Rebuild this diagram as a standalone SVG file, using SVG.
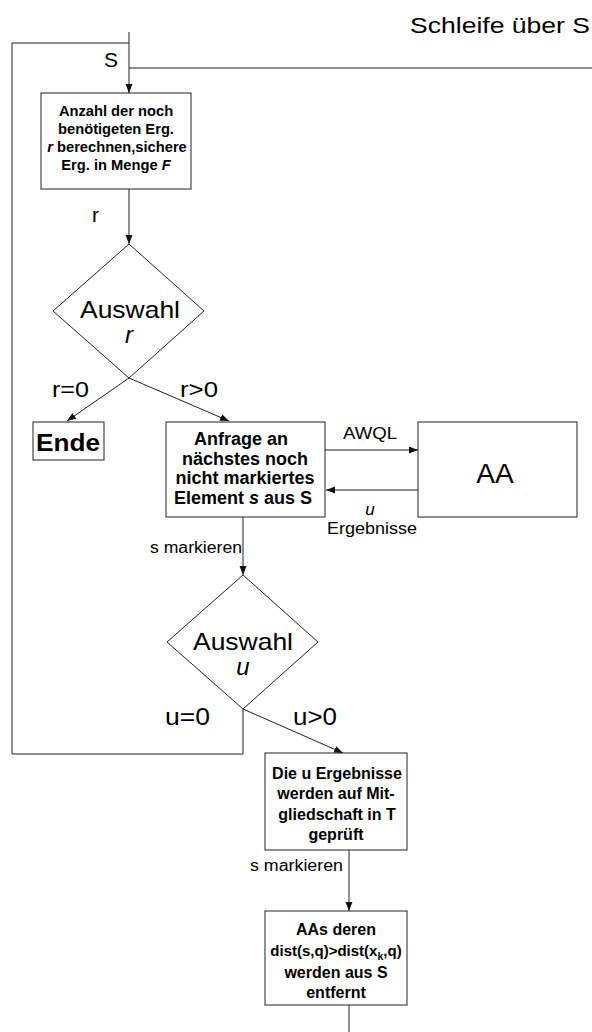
<svg xmlns="http://www.w3.org/2000/svg" width="592" height="1032" viewBox="0 0 592 1032">
  <style>
    .box { fill: #fff; stroke: #222; stroke-width: 1; }
    .wire { fill: none; stroke: #222; stroke-width: 1; }
    .t { font-family: "Liberation Sans", Arial, sans-serif; fill: #000; }
    .b { font-weight: bold; }
    .c { text-anchor: middle; }
    .i { font-style: italic; }
  </style>
  <defs>
    <marker id="arrow" markerWidth="9" markerHeight="8" refX="9" refY="3.5" orient="auto" markerUnits="userSpaceOnUse">
      <path d="M0,0 L9,3.5 L0,7 z" fill="#111"/>
    </marker>
  </defs>

  <rect width="592" height="1032" fill="#fff"/>

  <!-- title -->
  <text class="t" x="410" y="33" font-size="22" textLength="180" lengthAdjust="spacingAndGlyphs">Schleife über S</text>

  <!-- connectors -->
  <g id="connectors">
    <path class="wire" d="M129,32 V93" marker-end="url(#arrow)"/>
    <path class="wire" d="M129,68 H592"/>
    <path class="wire" d="M129,189 V244" marker-end="url(#arrow)"/>
    <path class="wire" d="M129,378 L67,421" marker-end="url(#arrow)"/>
    <path class="wire" d="M129,378 L229,421" marker-end="url(#arrow)"/>
    <path class="wire" d="M325,450 H418" marker-end="url(#arrow)"/>
    <path class="wire" d="M418,490 H326" marker-end="url(#arrow)"/>
    <path class="wire" d="M243,517 V575" marker-end="url(#arrow)"/>
    <path class="wire" d="M243,709 V754 H12 V43 H129"/>
    <path class="wire" d="M243,709 L343,753" marker-end="url(#arrow)"/>
    <path class="wire" d="M349,850 V911" marker-end="url(#arrow)"/>
    <path class="wire" d="M349,1005 V1032"/>

    <text class="t" x="104" y="67" font-size="21">S</text>
    <text class="t" x="92" y="222" font-size="21">r</text>
    <text class="t" x="52" y="397" font-size="22" textLength="37" lengthAdjust="spacingAndGlyphs">r=0</text>
    <text class="t" x="180" y="397" font-size="22" textLength="38" lengthAdjust="spacingAndGlyphs">r&gt;0</text>
    <text class="t" x="343" y="439" font-size="17" textLength="54" lengthAdjust="spacingAndGlyphs">AWQL</text>
    <text class="t c i" x="370" y="515" font-size="17">u</text>
    <text class="t" x="327" y="534" font-size="17" textLength="90" lengthAdjust="spacingAndGlyphs">Ergebnisse</text>
    <text class="t" x="150" y="553" font-size="16" textLength="92" lengthAdjust="spacingAndGlyphs">s markieren</text>
    <text class="t" x="165" y="725" font-size="23" textLength="45" lengthAdjust="spacingAndGlyphs">u=0</text>
    <text class="t" x="293" y="725" font-size="23" textLength="44" lengthAdjust="spacingAndGlyphs">u&gt;0</text>
    <text class="t" x="250" y="871" font-size="16" textLength="93" lengthAdjust="spacingAndGlyphs">s markieren</text>
  </g>

  <!-- step: compute remaining results -->
  <g id="node-anzahl">
    <rect class="box" x="41" y="93" width="150" height="96"/>
    <text class="t b c" x="116" y="116" font-size="14.7">Anzahl der noch</text>
    <text class="t b c" x="116" y="134" font-size="14.7">benötigeten Erg.</text>
    <text class="t b c" x="117" y="152" font-size="14.7"><tspan class="i">r</tspan> berechnen,sichere</text>
    <text class="t b c" x="116" y="170" font-size="14.7">Erg. in Menge <tspan class="i">F</tspan></text>
  </g>

  <!-- decision on r -->
  <g id="node-auswahl-r">
    <polygon class="box" points="129,244 204,311 129,378 53,311"/>
    <text class="t c" x="130" y="318" font-size="24" textLength="100" lengthAdjust="spacingAndGlyphs">Auswahl</text>
    <text class="t c i" x="129" y="343" font-size="24">r</text>
  </g>

  <!-- end -->
  <g id="node-ende">
    <rect class="box" x="33" y="422" width="71" height="38"/>
    <text class="t b c" x="68" y="451" font-size="24" textLength="64" lengthAdjust="spacingAndGlyphs">Ende</text>
  </g>

  <!-- query next element -->
  <g id="node-anfrage">
    <rect class="box" x="166" y="422" width="159" height="95"/>
    <text class="t b c" x="241" y="445" font-size="18">Anfrage an</text>
    <text class="t b c" x="245" y="464.5" font-size="18">nächstes noch</text>
    <text class="t b c" x="245" y="484" font-size="18">nicht markiertes</text>
    <text class="t b c" x="243" y="503.5" font-size="18">Element <tspan class="i">s</tspan> aus S</text>
  </g>

  <!-- AA -->
  <g id="node-aa">
    <rect class="box" x="418" y="422" width="159" height="95"/>
    <text class="t c" x="495" y="483" font-size="28">AA</text>
  </g>

  <!-- decision on u -->
  <g id="node-auswahl-u">
    <polygon class="box" points="243,575 318,642 243,709 167,642"/>
    <text class="t c" x="243" y="650" font-size="24" textLength="100" lengthAdjust="spacingAndGlyphs">Auswahl</text>
    <text class="t c i" x="243" y="675" font-size="24">u</text>
  </g>

  <!-- membership check -->
  <g id="node-pruefung">
    <rect class="box" x="265" y="753" width="142" height="97"/>
    <text class="t b c" x="337" y="779" font-size="16">Die u Ergebnisse</text>
    <text class="t b c" x="336" y="799" font-size="16">werden auf Mit-</text>
    <text class="t b c" x="337" y="820" font-size="16">gliedschaft in T</text>
    <text class="t b c" x="336" y="840" font-size="16">geprüft</text>
  </g>

  <!-- removal -->
  <g id="node-entfernen">
    <rect class="box" x="265" y="911" width="142" height="94"/>
    <text class="t b c" x="336" y="935" font-size="16">AAs deren</text>
    <text class="t b c" x="336" y="956" font-size="15">dist(s,q)&gt;dist(x<tspan font-size="10.5" dy="4">k</tspan><tspan dy="-4">,q)</tspan></text>
    <text class="t b c" x="336" y="978" font-size="16">werden aus S</text>
    <text class="t b c" x="336" y="998" font-size="16">entfernt</text>
  </g>
</svg>
